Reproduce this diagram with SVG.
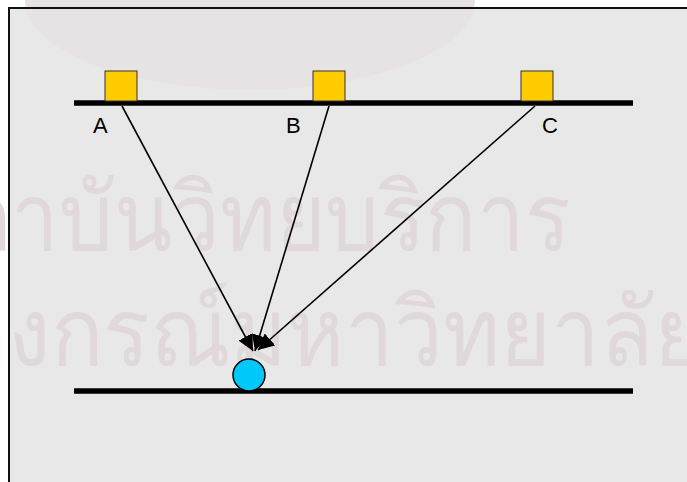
<svg xmlns="http://www.w3.org/2000/svg" width="687" height="482" viewBox="0 0 687 482">
<style>
.lbl{font-family:"Liberation Sans",Arial,sans-serif;font-size:22px;fill:#000}
.sq{fill:#ffcc00;stroke:#333;stroke-width:1}
.rail{stroke:#000;stroke-width:5.5}
.ray{stroke:#000;stroke-width:1.6;fill:none;marker-end:url(#ah)}
.wm{font-family:"Noto Sans","DejaVu Sans",sans-serif;font-size:94px;fill:#e1d8db}
</style>
<defs>
<marker id="ah" markerUnits="userSpaceOnUse" markerWidth="18" markerHeight="16" refX="16" refY="8" orient="auto">
<path d="M0,0 L16,8 L0,16 Z" fill="#000"/>
</marker>
</defs>
<rect width="687" height="482" fill="#fff"/>
<rect x="9" y="8" width="700" height="500" fill="#e8e8e8"/>
<g id="watermark">
<ellipse cx="250" cy="0" rx="225" ry="90" fill="#e7e3e5"/>
<text class="wm" x="-92" y="250" textLength="662" lengthAdjust="spacingAndGlyphs">สถาบันวิทยบริการ</text>
<text class="wm" x="-205" y="365" textLength="910" lengthAdjust="spacingAndGlyphs">จุฬาลงกรณ์มหาวิทยาลัย</text>
</g>
<rect x="9" y="8" width="700" height="500" fill="none" stroke="#111" stroke-width="2"/>
<g id="rails">
<line class="rail" x1="74" y1="103" x2="633" y2="103"/>
<line class="rail" x1="74" y1="391" x2="633" y2="391"/>
</g>
<g id="connectors">
<line class="ray" x1="122" y1="106" x2="253" y2="351"/>
<line class="ray" x1="329" y1="106" x2="255" y2="351"/>
<line class="ray" x1="535" y1="106" x2="258" y2="350"/>
</g>
<g id="nodeA"><rect class="sq" x="105" y="71" width="32" height="30"/><text class="lbl" x="93" y="133">A</text></g>
<g id="nodeB"><rect class="sq" x="313" y="71" width="32" height="30"/><text class="lbl" x="286" y="133">B</text></g>
<g id="nodeC"><rect class="sq" x="521" y="71" width="32" height="30"/><text class="lbl" x="542" y="133">C</text></g>
<g id="target"><circle cx="249" cy="375" r="16" fill="#00c8f8" stroke="#000" stroke-width="1.5"/></g>
</svg>
